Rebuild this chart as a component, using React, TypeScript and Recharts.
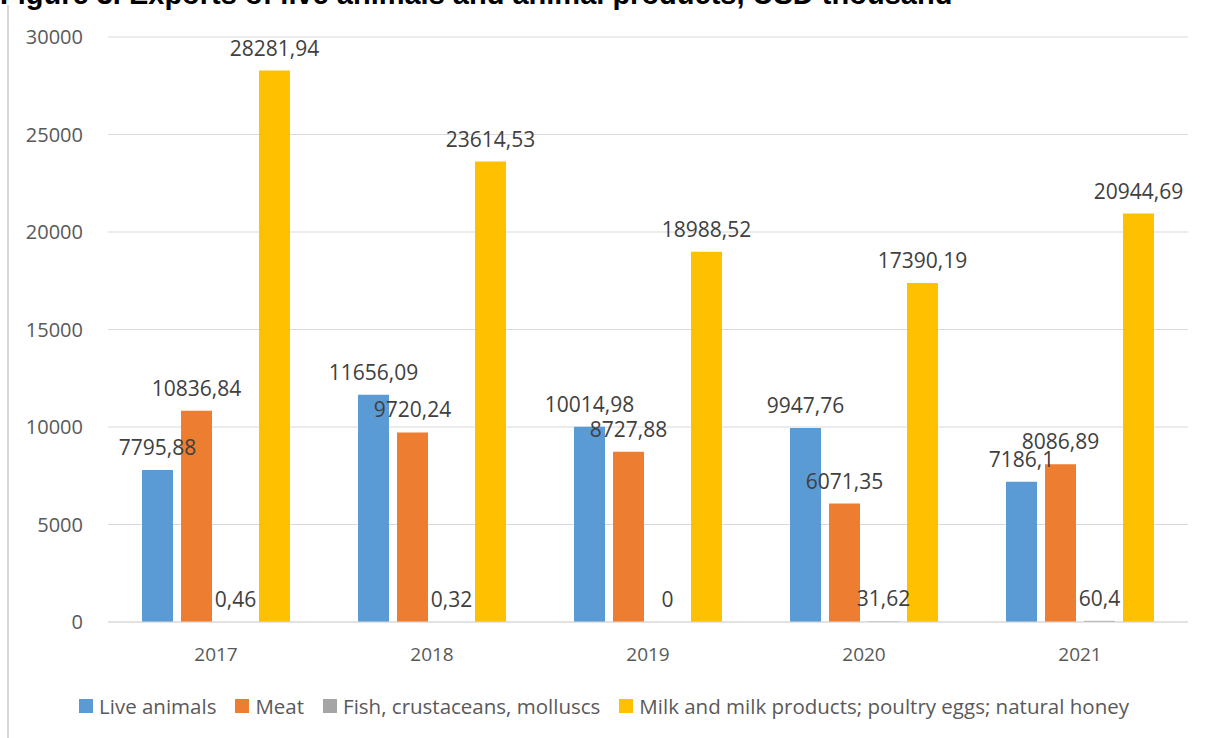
import React from 'react';
import { BarChart, Bar, XAxis, YAxis, CartesianGrid, Legend, LabelList } from 'recharts';

const years = ['2017', '2018', '2019', '2020', '2021'];
const liveAnimals = [7795.88, 11656.09, 10014.98, 9947.76, 7186.1];
const meat = [10836.84, 9720.24, 8727.88, 6071.35, 8086.89];
const fish = [0.46, 0.32, 0, 31.62, 60.4];
const milk = [28281.94, 23614.53, 18988.52, 17390.19, 20944.69];
const yTicks = [0, 5000, 10000, 15000, 20000, 25000, 30000];

const data = years.map((year, i) => ({
  year,
  live: liveAnimals[i],
  meat: meat[i],
  fish: fish[i],
  milk: milk[i],
}));

const series = [
  { key: 'live', name: 'Live animals', color: '#5B9BD5' },
  { key: 'meat', name: 'Meat', color: '#ED7D31' },
  { key: 'fish', name: 'Fish, crustaceans, molluscs', color: '#A5A5A5' },
  { key: 'milk', name: 'Milk and milk products; poultry eggs; natural honey', color: '#FFC000' },
];

const fmt = (v: any) => String(v).replace('.', ',');
const FONT = '"Open Sans", sans-serif';

// legend in series order (recharts sorts by name otherwise)
const renderLegend = () => (
  <div style={{ display: 'flex', justifyContent: 'center', alignItems: 'center', height: 30, fontFamily: FONT, fontSize: 20.5, color: '#595959' }}>
    {series.map((s, i) => (
      <div key={s.key} style={{ display: 'flex', alignItems: 'center', marginLeft: i === 0 ? 0 : 19 }}>
        <span style={{ display: 'inline-block', width: 14, height: 14, background: s.color, marginRight: 6 }} />
        <span>{s.name}</span>
      </div>
    ))}
  </div>
);

const App: React.FC = () => {
  return (
    <div style={{ position: 'absolute', left: 0, top: 0, width: 1208, height: 738, overflow: 'hidden', background: '#fff' }}>
      <div
        style={{
          position: 'absolute',
          left: 0,
          top: -22,
          fontFamily: '"Liberation Sans", Arial, sans-serif',
          fontWeight: 'bold',
          fontSize: 29,
          whiteSpace: 'nowrap',
          color: '#000',
        }}
      >
        Figure 3. Exports of live animals and animal products, USD thousand
      </div>
      <div style={{ position: 'absolute', left: 7, top: 5, width: 2, height: 740, background: '#d9d9d9' }} />
      <div style={{ position: 'absolute', left: 0, top: 0 }}>
        <BarChart
          width={1208}
          height={738}
          data={data}
          margin={{ top: 37, right: 20, left: 0, bottom: 0 }}
          barGap={8}
          barSize={31}
        >
          <CartesianGrid vertical={false} stroke="#d9d9d9" strokeWidth={1} />
          <XAxis
            dataKey="year"
            axisLine={{ stroke: '#d9d9d9' }}
            tickLine={false}
            tick={{ fill: '#595959', fontSize: 19, fontFamily: FONT }}
            tickMargin={20}
            height={86}
          />
          <YAxis
            domain={[0, 30000]}
            ticks={yTicks}
            axisLine={false}
            tickLine={false}
            tick={{ fill: '#595959', fontSize: 20, fontFamily: FONT }}
            tickMargin={19}
            width={108}
          />
          <Legend
            verticalAlign="bottom"
            content={renderLegend}
            wrapperStyle={{ height: 30, top: 691, left: 0, width: 1208 }}
          />
          {series.map((s) => (
            <Bar key={s.key} dataKey={s.key} name={s.name} fill={s.color} minPointSize={0.01} isAnimationActive={false}>
              <LabelList
                dataKey={s.key}
                position="top"
                offset={15}
                formatter={fmt}
                style={{ fill: '#404040', fontSize: 21, fontFamily: FONT }}
              />
            </Bar>
          ))}
        </BarChart>
      </div>
    </div>
  );
};

export default App;
